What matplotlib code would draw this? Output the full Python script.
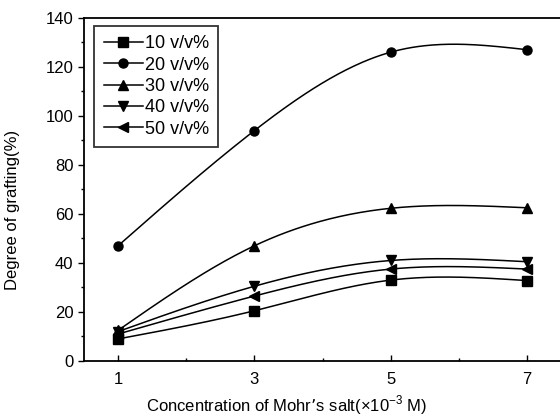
import numpy as np
import matplotlib
matplotlib.use("Agg")
import matplotlib.pyplot as plt
from matplotlib.ticker import MultipleLocator

plt.rcParams['font.family'] = ['Liberation Sans', 'DejaVu Sans']

x = [1, 3, 5, 7]
labels = ['10 v/v%', '20 v/v%', '30 v/v%', '40 v/v%', '50 v/v%']
markers = ['s', 'o', '^', 'v', '<']
s10 = [9, 20.5, 33, 32.8]
s20 = [47, 94, 126, 127]
s30 = [12.5, 47, 62.3, 62.5]
s40 = [12, 30.5, 41, 40.5]
s50 = [11, 26.5, 37.5, 37.5]
series = [s10, s20, s30, s40, s50]


def natural_spline(xs, ys, xq):
    xs = np.asarray(xs, float); ys = np.asarray(ys, float)
    n = len(xs)
    h = np.diff(xs)
    A = np.zeros((n, n)); b = np.zeros(n)
    A[0, 0] = 1; A[-1, -1] = 1
    for i in range(1, n - 1):
        A[i, i - 1] = h[i - 1]
        A[i, i] = 2 * (h[i - 1] + h[i])
        A[i, i + 1] = h[i]
        b[i] = 3 * ((ys[i + 1] - ys[i]) / h[i] - (ys[i] - ys[i - 1]) / h[i - 1])
    c = np.linalg.solve(A, b)
    out = np.empty_like(xq)
    for k, xv in enumerate(xq):
        i = min(np.searchsorted(xs, xv, side='right') - 1, n - 2)
        i = max(i, 0)
        dx = xv - xs[i]
        bb = (ys[i + 1] - ys[i]) / h[i] - h[i] * (2 * c[i] + c[i + 1]) / 3
        d = (c[i + 1] - c[i]) / (3 * h[i])
        out[k] = ys[i] + bb * dx + c[i] * dx ** 2 + d * dx ** 3
    return out


fig = plt.figure(figsize=(5.6, 4.2), dpi=100)
ax = fig.add_axes([0.15, 0.1405, 0.852, 0.817])

xq = np.linspace(x[0], x[-1], 200)
for ys, lab, m in zip(series, labels, markers):
    ax.plot(xq, natural_spline(x, ys, xq), color='black', lw=1.1)
    ax.plot(x, ys, linestyle='none', marker=m, color='black', markersize=6.5)
    ax.plot([], [], color='black', lw=1.1, marker=m, markersize=6.5, label=lab)

ax.set_xlim(0.5, 7.5)
ax.set_ylim(0, 140)
ax.set_xticks(x)
ax.xaxis.set_minor_locator(MultipleLocator(1))
ax.yaxis.set_major_locator(MultipleLocator(20))
ax.yaxis.set_minor_locator(MultipleLocator(10))
ax.tick_params(axis='x', which='both', direction='in', labelsize=12, pad=8)
ax.tick_params(axis='y', which='both', direction='out', labelsize=12)
ax.tick_params(which='major', length=4, width=1)
ax.tick_params(which='minor', length=2.5, width=1)
for sp in ax.spines.values():
    sp.set_linewidth(1.3)
ax.spines['right'].set_visible(False)

ax.set_xlabel('Concentration of Mohr\u2019s salt(\u00d710$^{\\mathregular{-3}}$ M)', fontsize=12)
ax.set_ylabel('Degree of grafting(%)', fontsize=12)
ax.xaxis.set_label_coords(0.425, -0.095)
ax.yaxis.set_label_coords(-0.135, 0.44)

leg = ax.legend(loc='upper left', bbox_to_anchor=(0.022, 0.975), fontsize=13,
                frameon=True, fancybox=False, edgecolor='black', handlelength=2.2,
                handletextpad=0.1, labelspacing=0.24, borderpad=0.5,
                borderaxespad=0)
leg.get_frame().set_linewidth(1.3)

fig.savefig('out.png', dpi=100)
